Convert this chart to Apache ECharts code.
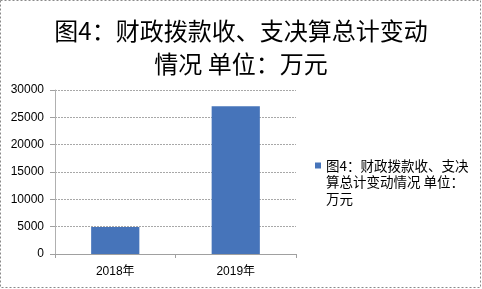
<!DOCTYPE html>
<html><head><meta charset="utf-8">
<script src="https://cdn.jsdelivr.net/npm/echarts@6/dist/echarts.min.js"></script>
<style>html,body{margin:0;padding:0;background:#fff}#c{width:482px;height:289px}</style>
</head><body><div id="c"></div>
<script>
const categories = ['2018年', '2019年'];
const values = [4950, 27050];
const seriesName = '图4：财政拨款收、支决算总计变动情况 单位：万元';
const yTicks = { min: 0, max: 30000, interval: 5000 };

const chart = echarts.init(document.getElementById('c'), null, { renderer: 'canvas' });
const cjk = '"Noto Sans CJK SC", sans-serif';
const num = '"Liberation Sans", "Noto Sans CJK SC", sans-serif';
const LH = 16.5;
chart.setOption({
  animation: false,
  backgroundColor: '#fff',
  title: {
    text: '图4：财政拨款收、支决算总计变动\n情况 单位：万元',
    left: 'center', top: 9,
    textStyle: { fontFamily: cjk, fontSize: 24, fontWeight: 'normal', color: '#000', lineHeight: 33 }
  },
  legend: {
    left: 315, top: 165.5 - 2.5 * LH, orient: 'vertical', padding: 0,
    itemWidth: 6, itemHeight: 6, itemGap: 6,
    icon: 'rect',
    formatter: () => '\n\n图4：财政拨款收、支决\n算总计变动情况 单位：\n万元',
    textStyle: { fontFamily: cjk, fontSize: 13.5, color: '#000', lineHeight: LH }
  },
  grid: { left: 55, right: 186, top: 90, bottom: 35 },
  xAxis: {
    type: 'category', data: categories,
    axisLine: { lineStyle: { color: '#a0a0a0' } },
    axisTick: { show: true, length: 4, lineStyle: { color: '#a0a0a0' } },
    axisLabel: { fontFamily: num, fontSize: 12, color: '#000', margin: 12 }
  },
  yAxis: {
    type: 'value', min: yTicks.min, max: yTicks.max, interval: yTicks.interval,
    axisLine: { show: true, lineStyle: { color: '#b0b0b0' } },
    axisTick: { show: true, length: 5, lineStyle: { color: '#a0a0a0' } },
    axisLabel: { fontFamily: num, fontSize: 12, color: '#000', margin: 11, formatter: v => String(v) },
    splitLine: { lineStyle: { color: '#a8a8a8', type: [2, 1] } }
  },
  series: [{
    name: seriesName, type: 'bar', data: values, barWidth: '40%',
    itemStyle: { color: '#4674ba' }
  }],
  graphic: [{
    type: 'rect', silent: true,
    shape: { x: 0.5, y: 0.5, width: 480, height: 287 },
    style: { fill: null, stroke: '#8a8a8a', lineWidth: 1, lineDash: [2, 2] }
  }]
});
</script></body></html>
